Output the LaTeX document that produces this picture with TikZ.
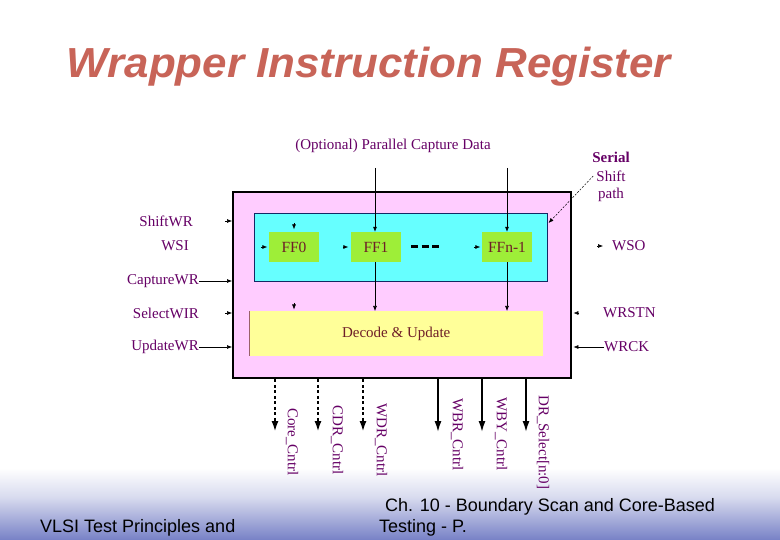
\documentclass[tikz,border=0pt]{standalone}
\usepackage{fontspec}
\setmainfont{Liberation Serif}
\newfontfamily\arialfont{Liberation Sans}
\usetikzlibrary{arrows.meta}
\definecolor{pinkbg}{RGB}{255,204,255}
\definecolor{cyanbg}{RGB}{102,255,255}
\definecolor{ffgreen}{RGB}{158,238,56}
\definecolor{decyel}{RGB}{255,255,153}
\definecolor{lblpurple}{RGB}{102,0,102}
\definecolor{ffred}{RGB}{110,30,40}
\definecolor{titlered}{RGB}{200,100,88}
\definecolor{navyline}{RGB}{20,40,100}
\definecolor{footblue}{RGB}{118,128,198}
\definecolor{footmid}{RGB}{215,218,238}
\begin{document}
\begin{tikzpicture}[x=1pt,y=-1pt,
  lbl/.style={font=\fontsize{15}{15}\selectfont, text=lblpurple, inner sep=0pt},
  fftext/.style={font=\fontsize{15.5}{15.5}\selectfont, text=ffred},
  ffbox/.style={fill=ffgreen, minimum width=50pt, minimum height=30pt, inner sep=0pt, fftext},
  stub/.style={line width=0.6pt, -{Latex[length=5pt,width=4pt]}},
  arr/.style={line width=0.6pt, -{Latex[length=5pt,width=4pt]}},
  bigarr/.style={line width=1.6pt, -{Latex[length=11pt,width=7pt]}},
  dasharr/.style={line width=2.2pt, dash pattern=on 3pt off 2.5pt, -{Latex[length=11pt,width=7pt]}},
  outlbl/.style={lbl, rotate=-90, anchor=west},
  foot/.style={font=\arialfont\fontsize{18}{18}\selectfont, anchor=base west, inner sep=0pt}
]
\useasboundingbox (0,0) rectangle (780,540);
\fill[white] (0,0) rectangle (780,540);
\shade[top color=white, bottom color=footmid] (0,468) rectangle (780,498);
\shade[top color=footmid, bottom color=footblue] (0,497.5) rectangle (780,540.5);

% title
\node[font=\arialfont\bfseries\itshape\fontsize{42}{42}\selectfont, text=titlered, anchor=base, inner sep=0pt] (title) at (369,78) {\scalebox{1.045}[1]{Wrapper Instruction Register}};

% boxes
\node[draw=black, line width=2.4pt, fill=pinkbg, anchor=north west, minimum width=338pt, minimum height=186pt, inner sep=0pt] (wrap) at (232,191) {};
\node[draw=navyline, line width=0.6pt, fill=cyanbg, anchor=north west, minimum width=293pt, minimum height=68pt, inner sep=0pt] (cyan) at (254,213) {};
\node[ffbox] (ff0) at (294,247) {FF0};
\node[ffbox] (ff1) at (376,247) {FF1};
\node[ffbox] (ffn) at (507,247) {FFn-1};
\node[fill=decyel, anchor=north west, minimum width=294pt, minimum height=45pt, inner sep=0pt, font=\fontsize{15}{15}\selectfont, text=ffred] (dec) at (249,311) {Decode \& Update};
\draw[line width=0.5pt, draw=ffred!70] (dec.north west) -- (dec.south west);

% dots between FF1 and FFn-1
\draw[line width=3pt, dash pattern=on 7pt off 3.5pt] ([xshift=10pt]ff1.east) -- ([xshift=-42pt]ffn.west);

% small stubs inside
\draw[stub] ([xshift=-8pt]ff0.west) -- ([xshift=-1.5pt]ff0.west);
\draw[stub] ([xshift=-8pt]ff1.west) -- ([xshift=-2.5pt]ff1.west);
\draw[stub] ([xshift=-8pt]ffn.west) -- ([xshift=-1.5pt]ffn.west);
\draw[stub] ([yshift=9pt]ff0.north) -- ([yshift=2.5pt]ff0.north);
\coordinate (d0) at (dec.north -| ff0.south);
\draw[stub] ([yshift=8pt]d0) -- ([yshift=1.5pt]d0);

% parallel capture data
\node[lbl] (pcd) at (393,146) {(Optional) Parallel Capture Data};
\coordinate (pc1) at (375,168);
\coordinate (pc2) at (507,168);
\draw[arr] (pc1) -- (pc1 |- ff1.north);
\draw[arr] (pc2) -- (pc2 |- ffn.north);
\draw[arr] (pc1 |- ff1.south) -- (pc1 |- dec.north);
\draw[arr] (pc2 |- ffn.south) -- (pc2 |- dec.north);

% left signals
\node[lbl, anchor=east] (shiftwr) at (193,221) {ShiftWR};
\node[lbl, anchor=east] (wsi) at (189,246) {WSI};
\node[lbl, anchor=east] (capwr) at (199,281) {CaptureWR};
\node[lbl, anchor=east] (selwir) at (199,313) {SelectWIR};
\node[lbl, anchor=east] (updwr) at (199,347) {UpdateWR};
\coordinate (a1) at (wrap.west |- shiftwr);
\draw[stub] ([xshift=-7pt]a1) -- (a1);
\coordinate (a2) at (wrap.west |- selwir);
\draw[stub] ([xshift=-7pt]a2) -- (a2);
\draw[arr] (capwr.east) -- (capwr.east -| wrap.west);
\draw[arr] (updwr.east) -- (updwr.east -| wrap.west);

% right signals
\node[lbl, anchor=west] (wso) at (612,246) {WSO};
\node[lbl, anchor=west] (wrstn) at (603,313) {WRSTN};
\node[lbl, anchor=west] (wrck) at (604,347) {WRCK};
\draw[stub] ([xshift=-15pt]wso.west) -- ([xshift=-9pt]wso.west);
\coordinate (b1) at (wrap.east |- wrstn);
\draw[stub] ([xshift=7pt]b1) -- ([xshift=1pt]b1);
\draw[arr] (wrck.west) -- ([xshift=1pt]wrck.west -| wrap.east);

% serial shift path
\node[lbl, font=\fontsize{15}{15}\selectfont\bfseries] (serial) at (611,157) {Serial};
\node[lbl] (shiftt) at (611,176) {Shift};
\node[lbl] (path) at (611,195) {path};
\coordinate (sspend) at ([yshift=-10pt]cyan.north east);
\draw[line width=0.5pt, dash pattern=on 2pt off 1.5pt, -{Latex[length=5pt,width=4pt]}] ([xshift=-3pt]shiftt.west) -- ([xshift=1pt]sspend);

% outputs
\coordinate (o1) at (275,432);
\coordinate (o2) at (318,432);
\coordinate (o3) at (363,432);
\coordinate (o4) at (438,432);
\coordinate (o5) at (482,432);
\coordinate (o6) at (526,432);
\draw[dasharr] (o1 |- wrap.south) -- (o1);
\draw[dasharr] (o2 |- wrap.south) -- (o2);
\draw[dasharr] (o3 |- wrap.south) -- (o3);
\draw[bigarr] (o4 |- wrap.south) -- (o4);
\draw[bigarr] (o5 |- wrap.south) -- (o5);
\draw[bigarr] (o6 |- wrap.south) -- (o6);
\node[outlbl] (l1) at (292,408) {Core\_Cntrl};
\node[outlbl] (l2) at (337,405) {CDR\_Cntrl};
\node[outlbl] (l3) at (381,403) {WDR\_Cntrl};
\node[outlbl] (l4) at (457,398) {WBR\_Cntrl};
\node[outlbl] (l5) at (501,397) {WBY\_Cntrl};
\node[outlbl] (l6) at (543,395) {DR\_Select[n:0]};

% footer
\node[foot] (f1) at (40,532) {VLSI Test Principles and};
\node[foot] (f2) at (385,511.5) {Ch. 10 - Boundary Scan and Core-Based};
\node[foot] (f3) at (379,532.5) {Testing - P.};
\end{tikzpicture}
\end{document}
